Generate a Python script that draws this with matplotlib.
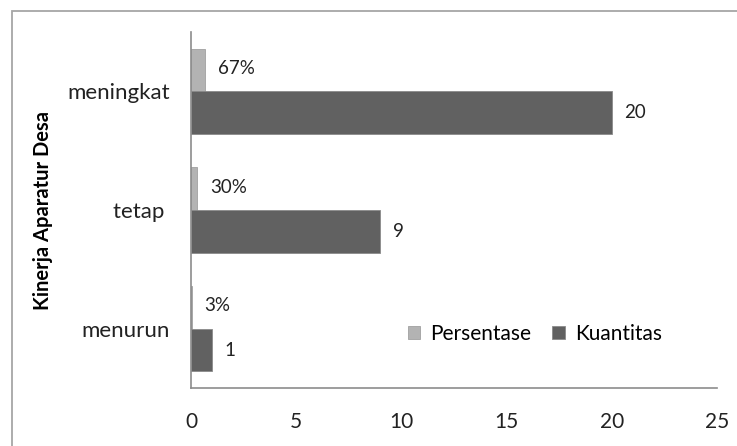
import matplotlib
matplotlib.use("Agg")
import matplotlib.pyplot as plt
import matplotlib.patches as patches
import numpy as np

categories = ["menurun", "tetap ", "meningkat"]
persentase = [0.03, 0.30, 0.67]
persentase_labels = ["3%", "30%", "67%"]
kuantitas = [1, 9, 20]
xticks = [0, 5, 10, 15, 20, 25]

plt.rcParams['font.family'] = ['Lato', 'DejaVu Sans']

fig = plt.figure(figsize=(7.37, 4.46), dpi=100)
ax = fig.add_axes([0.2592, 0.130, 0.7137, 0.798])

y = np.arange(len(categories))
h = 0.36
b1 = ax.barh(y + h / 2, persentase, height=h, color="#b3b3b3", edgecolor="#a0a0a0",
             linewidth=0.6, label="Persentase")
b2 = ax.barh(y - h / 2, kuantitas, height=h, color="#616161", edgecolor="#8a8a8a",
             linewidth=0.6, label="Kuantitas")

# value labels
for yy, v, lab in zip(y, persentase, persentase_labels):
    ax.annotate(lab, (v, yy + h / 2), xytext=(9, 1), textcoords="offset points",
                ha="left", va="center", fontsize=13.5, color="#222222")
for yy, v in zip(y, kuantitas):
    ax.annotate(str(v), (v, yy - h / 2), xytext=(9, 0), textcoords="offset points",
                ha="left", va="center", fontsize=13.5, color="#222222")

ax.set_xlim(0, 25)
ax.set_ylim(-0.5, 2.5)
ax.set_xticks(xticks)
ax.set_yticks(y)
ax.set_yticklabels(categories)
ax.tick_params(axis="y", length=0, pad=15, labelsize=16, colors="#222222")
ax.tick_params(axis="x", length=0, pad=17, labelsize=15, colors="#222222")

for s in ["top", "right"]:
    ax.spines[s].set_visible(False)
for s in ["left", "bottom"]:
    ax.spines[s].set_color("#8c8c8c")
    ax.spines[s].set_linewidth(1.2)

ax.set_ylabel("Kinerja Aparatur Desa", fontweight="bold", fontsize=14.5, color="black")
ax.yaxis.set_label_coords(-0.262, 0.5)

ax.legend(loc="center", bbox_to_anchor=(0.654, 0.152), ncol=2, frameon=False,
          handlelength=0.6, handleheight=0.6, handletextpad=0.5, columnspacing=1.0,
          fontsize=15)

# outer chart border
border = patches.Rectangle((12 / 737, -0.1), 1.2, 1 - 11 / 446 + 0.1, transform=fig.transFigure,
                           fill=False, edgecolor="#a6a6a6", linewidth=1.3, clip_on=False)
fig.patches.append(border)

fig.savefig("out.png", dpi=100)
